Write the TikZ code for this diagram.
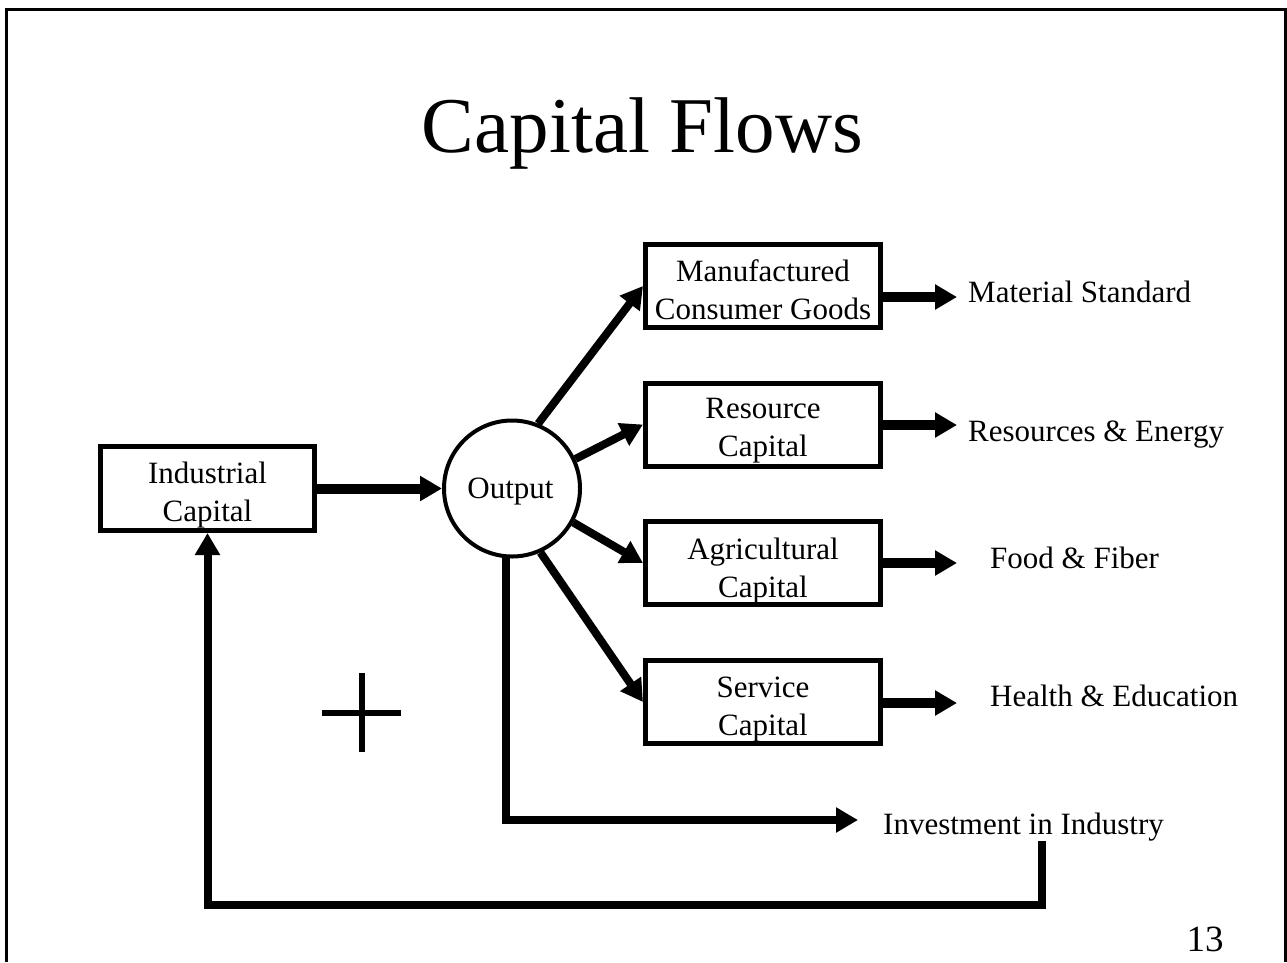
\documentclass[tikz,border=0pt]{standalone}
\usepackage{fontspec}
\setmainfont{Liberation Serif}
\usetikzlibrary{arrows.meta}
\begin{document}
\begin{tikzpicture}[x=1pt,y=-1pt,
  box/.style={draw,line width=5pt,minimum width=235pt,minimum height=83pt,inner sep=0pt},
  lbl/.style={inner sep=0pt,align=center,anchor=north,font=\fontsize{31}{38}\selectfont},
  txt/.style={inner sep=0pt,anchor=base west,font=\fontsize{31}{38}\selectfont},
  flow/.style={line width=8pt,-{Triangle[length=22pt,width=24pt]}},
  wideflow/.style={flow,line width=10pt},
]
\useasboundingbox (0,0) rectangle (1287,962);

% slide frame (open at the bottom)
\draw[line width=3pt] (6.5,962) -- (6.5,9.5) -- (1285.5,9.5) -- (1285.5,962);

% title and page number
\node[inner sep=0pt,anchor=base,font=\fontsize{79}{90}\selectfont] (title) at (642.5,152) {Capital Flows};
\node[inner sep=0pt,anchor=base,font=\fontsize{37}{44}\selectfont] (page) at (1205,951) {13};

% stocks
\node[box,minimum width=214pt,minimum height=84pt] (ind) at (207.5,488.5) {};
\node[lbl] (indT) at (207.5,461.5) {Industrial\\Capital};

\node[draw,circle,line width=4pt,minimum size=136pt,inner sep=0pt] (out) at (512,488.5) {};
\node[inner sep=0pt,anchor=base,font=\fontsize{31}{38}\selectfont] (outT) at (510.5,498) {Output};

\node[box] (mcg) at (763,286) {};
\node[lbl] (mcgT) at (763,259.5) {Manufactured\\Consumer Goods};
\node[box] (res) at (763,424.5) {};
\node[lbl] (resT) at (763,397.5) {Resource\\Capital};
\node[box] (agr) at (763,563) {};
\node[lbl] (agrT) at (763,537.5) {Agricultural\\Capital};
\node[box] (svc) at (763,702) {};
\node[lbl] (svcT) at (763,676.5) {Service\\Capital};

% outcomes
\node[txt] (ms)  at (968,302) {Material Standard};
\node[txt] (re)  at (968,441) {Resources \& Energy};
\node[txt] (ff)  at (990,568) {Food \& Fiber};
\node[txt] (he)  at (990,706) {Health \& Education};
\node[txt] (inv) at (883,834) {Investment in Industry};

% arrow ends
\coordinate (msA) at (957,297);
\coordinate (reA) at (957,425);
\coordinate (ffA) at (957,563);
\coordinate (heA) at (957,703);
\coordinate (invA) at (858,820);
\coordinate (fbTop) at (1042,841);
\coordinate (fbBot) at (1042,905);

% flows
\draw[wideflow] (ind.east) -- (out.west);
\draw[flow] (out.68)  -- (mcg.west);
\draw[flow] (out.25)  -- (res.west);
\draw[flow] (out.-29) -- (agr.west);
\draw[flow] (out.-66) -- (svc.west);

\draw[wideflow] (mcg.east |- msA) -- (msA);
\draw[wideflow] (res.east |- reA) -- (reA);
\draw[wideflow] (agr.east |- ffA) -- (ffA);
\draw[wideflow] (svc.east |- heA) -- (heA);

\draw[flow] (out.-95) |- (invA);
\draw[flow] (fbTop) -- (fbBot) -| (ind.south);

% positive loop sign
\draw[line width=6pt] (322,713) -- (401,713) (362,673) -- (362,752);
\end{tikzpicture}
\end{document}
